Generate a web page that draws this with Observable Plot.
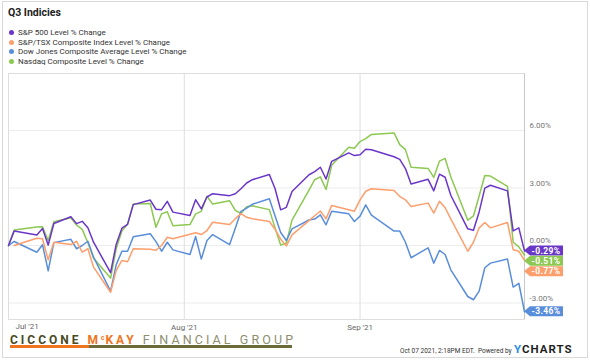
<!DOCTYPE html>
<html><head><meta charset="utf-8">
<script src="https://cdn.jsdelivr.net/npm/d3@7"></script>
<script src="https://cdn.jsdelivr.net/npm/@observablehq/plot@0.6"></script>
<style>
body{margin:0;background:#fff;font-family:Roboto,"Liberation Sans",sans-serif;}
#wrap{position:relative;width:590px;height:360px;overflow:hidden;background:#fff;}
#frame{position:absolute;left:2px;top:1px;width:586px;height:357px;border:1px solid #d9d9d9;box-sizing:border-box;}
#chart{position:absolute;left:0;top:0;}
#title{position:absolute;left:8px;top:6px;font-weight:bold;font-size:10.5px;color:#222;}
.leg{position:absolute;left:9px;font-size:8px;color:#333;line-height:10px;white-space:nowrap;}
.leg i{display:inline-block;width:5px;height:5px;border-radius:50%;margin-right:4px;vertical-align:0px}
#logo{position:absolute;left:10px;top:332px;font-size:12px;white-space:nowrap;line-height:12px;}
#logo .a{color:#4a4a24;font-weight:bold;letter-spacing:3px;}
#logo .b{color:#ef7420;font-weight:bold;letter-spacing:3px;}
#logo .b sup{font-size:6.5px;vertical-align:4px;letter-spacing:1px}
#logo .c{color:#8e8e70;letter-spacing:3.1px;font-size:12.5px}
#bar1{position:absolute;left:10px;top:345px;width:79px;height:3px;background:#ef7420;}
#bar2{position:absolute;left:89px;top:345px;width:203px;height:3px;background:#6b6b3a;}
#stamp{position:absolute;left:400px;top:347px;font-size:6.5px;color:#333;white-space:nowrap;}
#yc{position:absolute;left:514px;top:342px;font-size:11.5px;font-weight:bold;letter-spacing:1px;color:#1f1f1f;}
#yc span{color:#2a8de3}
</style></head>
<body>
<div id="wrap">
<div id="frame"></div>
<div id="chart"></div>
<div id="title">Q3 Indicies</div>
<div id="legend"></div>
<div id="logo"><span class="a">CICCONE </span><span class="b">M<sup>c</sup>KAY </span><span class="c">FINANCIAL GROUP</span></div>
<div id="bar1"></div><div id="bar2"></div>
<div id="stamp">Oct 07 2021, 2:18PM EDT.&nbsp;&nbsp;Powered by</div>
<div id="yc"><span>Y</span>CHARTS</div>
</div>
<script>
const dates = [
"2021-07-01","2021-07-02","2021-07-06","2021-07-07","2021-07-08","2021-07-09","2021-07-12","2021-07-13","2021-07-14","2021-07-15","2021-07-16","2021-07-19","2021-07-20","2021-07-21","2021-07-22","2021-07-23","2021-07-26","2021-07-27","2021-07-28","2021-07-29","2021-07-30",
"2021-08-02","2021-08-03","2021-08-04","2021-08-05","2021-08-06","2021-08-09","2021-08-10","2021-08-11","2021-08-12","2021-08-13","2021-08-16","2021-08-17","2021-08-18","2021-08-19","2021-08-20","2021-08-23","2021-08-24","2021-08-25","2021-08-26","2021-08-27","2021-08-30","2021-08-31",
"2021-09-01","2021-09-02","2021-09-03","2021-09-07","2021-09-08","2021-09-09","2021-09-10","2021-09-13","2021-09-14","2021-09-15","2021-09-16","2021-09-17","2021-09-20","2021-09-21","2021-09-22","2021-09-23","2021-09-24","2021-09-27","2021-09-28","2021-09-29","2021-09-30"];

const sp500 = [0,0.75,0.55,0.88,0.02,1.15,1.50,1.14,1.26,0.93,0.17,-1.42,0.07,0.90,1.10,2.13,2.37,1.89,1.87,2.30,1.74,
1.56,2.39,1.91,2.53,2.70,2.60,2.70,2.96,3.26,3.43,3.70,2.97,1.86,1.99,2.82,3.69,3.85,4.08,3.47,4.39,4.83,4.69,
4.73,5.02,4.99,4.63,4.49,4.01,3.21,3.45,2.85,3.72,3.56,2.62,0.87,0.79,1.75,2.99,3.14,2.85,0.76,0.92,-0.29];

const tsx = [null,0,0.38,0.35,-0.75,0.17,0.05,0.22,-0.35,-0.17,-1.13,-2.44,-1.30,-0.78,-0.85,-0.17,-0.20,-0.25,0.00,0.43,0.35,
null,0.66,0.57,0.78,1.21,1.09,1.40,1.66,1.47,1.40,1.25,0.85,0.33,-0.02,0.55,1.30,1.55,1.80,1.39,2.09,1.86,1.79,
2.38,2.83,2.96,2.87,2.56,2.38,2.03,2.21,1.69,2.31,1.97,1.39,-0.30,0.17,0.92,1.20,0.92,1.20,-0.22,-0.30,-0.77];

const djComp = [0,0.21,-0.35,0.04,-1.32,0.15,0.32,-0.17,0.00,0.22,-0.61,-2.38,-1.00,-0.30,-0.30,0.45,0.61,0.20,-0.30,0.17,-0.23,
-0.47,0.47,-0.71,0.26,0.57,0.05,0.90,1.78,1.95,2.15,2.44,1.55,0.68,0.26,0.87,1.33,1.38,1.60,1.08,1.79,1.65,1.25,
1.53,2.12,1.58,0.75,0.75,0.17,-0.64,-0.12,-0.92,-0.26,-0.47,-1.27,-2.66,-2.83,-2.38,-1.16,-0.92,-0.71,-2.17,-1.97,-3.46];

const nasdaq = [0,0.81,0.97,0.98,0.26,1.24,1.45,1.07,0.84,0.14,-0.66,-1.70,-0.16,0.75,1.12,2.17,2.19,0.95,1.65,1.76,1.03,
1.09,1.65,1.78,2.57,2.16,2.33,1.83,1.67,2.02,2.07,1.87,0.92,0.02,0.13,1.32,2.89,3.43,3.58,2.92,4.18,5.12,5.07,
5.42,5.57,5.79,5.87,5.26,5.00,4.08,4.02,3.55,4.40,4.54,3.59,1.32,1.54,2.58,3.65,3.62,3.08,0.17,-0.07,-0.51];

const seriesNames = ["S&P 500 Level % Change","S&P/TSX Composite Index Level % Change","Dow Jones Composite Average Level % Change","Nasdaq Composite Level % Change"];
const seriesColors = ["#6a36c8","#fd9f6c","#5a8edb","#8cc852"];
const seriesValues = [sp500, tsx, djComp, nasdaq];
const yTicks = [-3, 0, 3, 6];
const xTicks = ["2021-08-01","2021-09-01"];
const xStart = "2021-07-01", xEnd = "2021-09-30";

const parse = d3.utcParse("%Y-%m-%d");
const rows = [];
seriesValues.forEach((vals, i) => vals.forEach((v, j) => {
  if (v !== null) rows.push({date: parse(dates[j]), value: v, series: seriesNames[i]});
}));
const drawOrder = [3, 2, 1, 0];
const fmtX = d3.utcFormat("%b '%y");
const fmtY = d => d.toFixed(2) + "%";

const plot = Plot.plot({
  width: 590, height: 360,
  marginLeft: 8, marginRight: 66, marginTop: 73, marginBottom: 41,
  x: {type: "utc", domain: [parse(xStart), parse(xEnd)]},
  y: {domain: [-3.86, 8.97]},
  style: {fontFamily: "Roboto, sans-serif", fontSize: "8px", background: "transparent", overflow: "visible"},
  marks: [
    Plot.ruleY(yTicks, {stroke: "#ececec", strokeWidth: 1}),
    Plot.ruleX(xTicks.map(parse), {stroke: "#dedede"}),
    Plot.frame({stroke: "#dedede"}),
    Plot.ruleX([parse(xEnd)], {stroke: "#c8c8c8"}),
    Plot.axisY(yTicks, {anchor: "right", tickSize: 0, tickPadding: 5, textAnchor: "start", dy: -5, tickFormat: fmtY, fill: "#777", label: null}),
    Plot.axisX(xTicks.map(parse), {tickSize: 0, tickPadding: 5, tickFormat: fmtX, fill: "#666", label: null}),
    Plot.text([parse(xStart)], {x: d => d, frameAnchor: "bottom", dy: 9, dx: 7, textAnchor: "start", text: d => fmtX(d), fill: "#666"}),
    ...drawOrder.map(i => Plot.line(rows.filter(r => r.series === seriesNames[i]), {
      x: "date", y: "value", stroke: seriesColors[i], strokeWidth: 1.5, strokeLinejoin: "round"
    }))
  ]
});
document.getElementById("chart").appendChild(plot);

// end-value tags, positioned with the plot's scales
const ys = plot.scale("y"), xs = plot.scale("x");
const xTip = xs.apply(parse(xEnd));
const tags = seriesValues.map((vals, i) => ({i, v: vals[vals.length - 1], y: ys.apply(vals[vals.length - 1])}))
  .sort((a, b) => a.y - b.y);
for (let k = 1; k < tags.length; k++) tags[k].y = Math.max(tags[k].y, tags[k - 1].y + 10.3);
const svg = d3.select(plot);
const g = svg.append("g");
tags.forEach(t => {
  const c = t.y, h = 5;
  g.append("path")
    .attr("d", `M${xTip},${c}L${xTip + 6},${c - h}H${xTip + 39}V${c + h}H${xTip + 6}Z`)
    .attr("fill", seriesColors[t.i]);
  g.append("text").attr("x", xTip + 22).attr("y", c).attr("dy", "0.35em")
    .attr("text-anchor", "middle").attr("fill", "#fff").attr("font-weight", "bold")
    .attr("font-size", "8.5px").attr("letter-spacing", "0.4px").text(t.v.toFixed(2) + "%");
});

// legend
const leg = document.getElementById("legend");
seriesNames.forEach((n, i) => {
  const d = document.createElement("div");
  d.className = "leg";
  d.style.top = (28 + i * 9.6) + "px";
  d.innerHTML = `<i style="background:${seriesColors[i]}"></i>` + n.replace(/&/g, "&amp;");
  leg.appendChild(d);
});
</script>
</body></html>
